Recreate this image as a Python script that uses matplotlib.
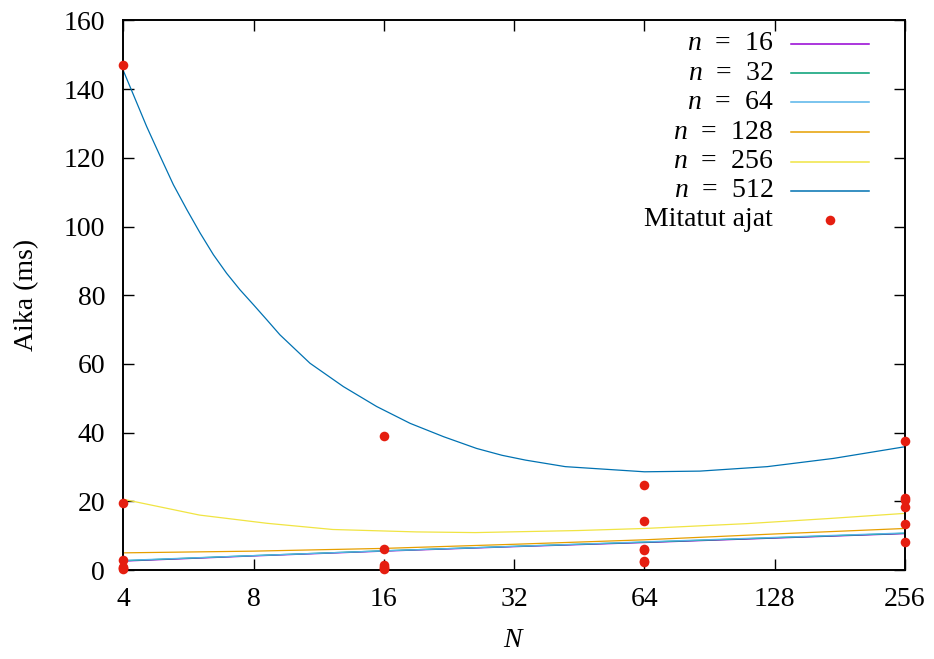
import matplotlib
matplotlib.use('Agg')
import matplotlib.pyplot as plt
import numpy as np

plt.rcParams.update({
    'font.family': 'serif',
    'font.serif': ['Liberation Serif', 'DejaVu Serif'],
    'mathtext.fontset': 'custom',
    'mathtext.rm': 'Liberation Serif',
    'mathtext.it': 'Liberation Serif:italic',
    'font.size': 20,
})

# fitted curves (N, time in ms)
n_labels = ['16', '32', '64', '128', '256', '512']
n_colors = ['#9400d3', '#009e73', '#56b4e9', '#e69f00', '#f0e442', '#0072b2']

N_low = [4, 8, 16, 32, 64, 128, 256]
t_n16 = [2.6, 4.1, 5.5, 6.8, 8.0, 9.3, 10.6]
t_n32 = [2.7, 4.2, 5.6, 6.9, 8.1, 9.4, 10.7]
t_n64 = [2.8, 4.2, 5.6, 6.9, 8.2, 9.5, 10.8]
t_n128 = [5.0, 5.5, 6.3, 7.5, 8.8, 10.5, 12.1]

N_n256 = [4, 6, 8.6, 12.2, 19, 26, 45, 64, 110, 171, 256]
t_n256 = [20.6, 16.0, 13.6, 11.8, 11.1, 10.9, 11.5, 12.1, 13.5, 15.0, 16.5]

N_n512 = [4, 4.22, 4.53, 4.87, 5.22, 5.61, 6.02, 6.46, 6.93, 7.44, 8.0,
          8.59, 9.2, 10.8, 12.9, 15.4, 18.4, 22, 26.2,
          30, 34, 42, 64, 86, 123, 175, 256]
t_n512 = [145.4, 138.4, 129.1, 120.4, 112.2, 104.9, 98.1, 91.8, 86.4, 81.6,
          77.2, 72.8, 68.5, 60.2, 53.4, 47.6, 42.7, 38.8, 35.4,
          33.4, 32.0, 30.1, 28.6, 28.8, 30.1, 32.5, 35.9]

# measured times
meas_N = [4] * 6 + [16] * 6 + [64] * 6 + [256] * 6
meas_t = [147, 19.5, 2.8, 0.8, 0.5, 0.4,
          39.0, 6.1, 1.5, 1.0, 0.6, 0.4,
          24.7, 14.4, 6.0, 5.8, 2.6, 2.4,
          37.6, 20.9, 20.5, 18.4, 13.5, 8.2]

curves = [(N_low, t_n16), (N_low, t_n32), (N_low, t_n64), (N_low, t_n128),
          (N_n256, t_n256), (N_n512, t_n512)]

fig = plt.figure(figsize=(9.34, 6.59), dpi=100)
ax = fig.add_axes([0.132, 0.135, 0.837, 0.834])

for (xs, ys), c in zip(curves, n_colors):
    ax.plot(xs, ys, color=c, lw=0.9)

ax.scatter(meas_N, meas_t, s=48, color='#e51e10', zorder=5, clip_on=False,
           linewidths=0)

ax.set_xscale('log', base=2)
ax.set_xlim(4, 256)
ax.set_ylim(0, 160)
ax.set_xticks([4, 8, 16, 32, 64, 128, 256])
ax.set_xticklabels(['4', '8', '16', '32', '64', '128', '256'])
ax.minorticks_off()
ax.set_yticks(np.arange(0, 161, 20))
ax.tick_params(direction='in', length=8, width=1, top=True, right=True,
               labelsize=20)
ax.tick_params(axis='y', pad=13)
ax.tick_params(axis='x', pad=12)
for s in ax.spines.values():
    s.set_linewidth(1.4)

ax.set_xlabel('$N$', fontsize=20, labelpad=12)
ax.set_ylabel('Aika (ms)', fontsize=20, labelpad=18)

# gnuplot style key: text right-aligned, sample on the right
row_y = [44, 73.3, 102.7, 132.3, 161.7, 190.7, 220]
to_ax = lambda px, py: ((px - 123.3) / 781.7, (570 - py) / 549.3)
for lab, c, py in zip(n_labels, n_colors, row_y):
    tx, ty = to_ax(773, py)
    ax.text(tx, ty, '$n$  =  ' + lab, transform=ax.transAxes, ha='right',
            va='center', fontsize=20)
    x0, _ = to_ax(791, py)
    x1, _ = to_ax(869, py)
    ax.plot([x0, x1], [ty, ty], transform=ax.transAxes, color=c, lw=1.1)
tx, ty = to_ax(773, row_y[-1])
ax.text(tx, ty, 'Mitatut ajat', transform=ax.transAxes, ha='right',
        va='center', fontsize=20)
dx, _ = to_ax(830, row_y[-1])
ax.scatter([dx], [ty], transform=ax.transAxes, s=48, color='#e51e10',
           linewidths=0)

fig.savefig('out.png', dpi=100)
